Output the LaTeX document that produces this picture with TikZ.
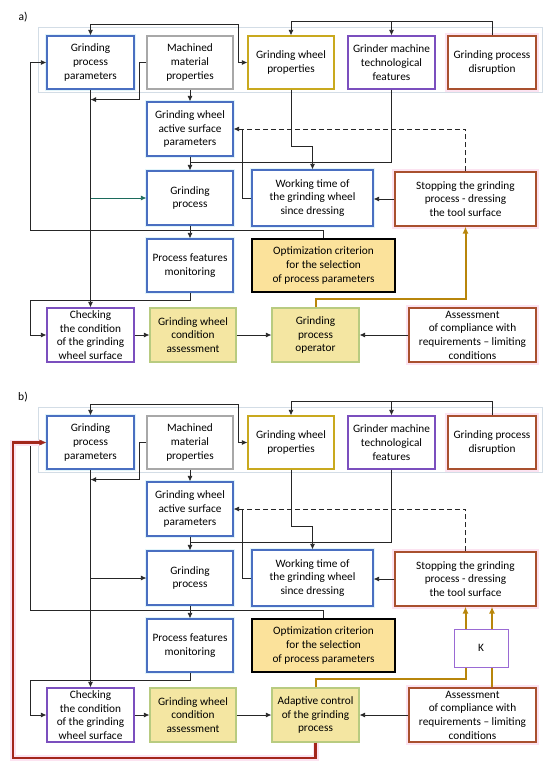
\documentclass[tikz,border=0pt]{standalone}
\usepackage{fontspec}
\setmainfont{Carlito}
\usetikzlibrary{arrows.meta,calc}
\definecolor{cblue}{HTML}{4A6FC1}
\definecolor{cglowb}{HTML}{E2F5FA}
\definecolor{cgray}{HTML}{A8A8A8}
\definecolor{cgold}{HTML}{C9A91E}
\definecolor{cpurp}{HTML}{7B4FBE}
\definecolor{cbrown}{HTML}{A9502E}
\definecolor{cglowp}{HTML}{FCE3F1}
\definecolor{coptf}{HTML}{FBE29B}
\definecolor{cyelf}{HTML}{F4E6A2}
\definecolor{cyeld}{HTML}{B8CB80}
\definecolor{cline}{HTML}{B8860B}
\definecolor{cred}{HTML}{A3261B}
\definecolor{cframe}{HTML}{D3DDE6}
\definecolor{cteal}{HTML}{1C6B5C}
\definecolor{ckpurp}{HTML}{9A6AD4}
\newcommand{\bxf}{\fontsize{11.3}{13.7}\selectfont}
\tikzset{
  base/.style={draw, line width=1.2pt, fill=white, align=center, inner sep=0pt, font=\bxf},
  sz/.style 2 args={minimum width=#1pt, minimum height=#2pt},
  bblue/.style={base, draw=cblue, preaction={draw=cglowb, line width=4pt}},
  bgray/.style={base, draw=cgray},
  bgold/.style={base, draw=cgold},
  bpurp/.style={base, draw=cpurp},
  bbrown/.style={base, draw=cbrown, preaction={draw=cglowp, line width=6pt}},
  bopt/.style={base, fill=coptf, draw=black, line width=1.4pt},
  byel/.style={base, fill=cyelf, draw=cyeld},
  bk/.style={base, draw=ckpurp, line width=0.9pt},
  conn/.style={line width=0.8pt, draw=black!85},
  arr/.style={conn, -{Latex[length=5.5pt,width=5pt]}},
  arrtwo/.style={conn, {Latex[length=5.5pt,width=5pt]}-{Latex[length=5.5pt,width=5pt]}},
  dline/.style={conn, dash pattern=on 5pt off 3pt},
  goldarr/.style={line width=2pt, draw=cline, -{Latex[length=7pt,width=6pt]}},
  redarr/.style={line width=2.2pt, draw=cred, preaction={draw=cglowp, line width=6pt}, -{Latex[length=7pt,width=6pt]}},
  frame/.style={draw=cframe, line width=0.6pt},
  lbl/.style={font=\fontsize{11.5}{13}\selectfont, inner sep=0pt}
}
\newcommand{\drawpanel}[2]{%
  \draw[frame] (38,27) rectangle (542,92);
  \node[bblue, sz={87}{53}] (GPP) at (90.5,62.5) {Grinding\\process\\parameters};
  \node[bgray, sz={86}{53}] (MMP) at (190,62.5) {Machined\\material\\properties};
  \node[bgold, sz={86}{53}] (GWP) at (291,62.5) {Grinding wheel\\properties};
  \node[bpurp, sz={87}{53}] (GMT) at (391.5,62.5) {Grinder machine\\technological\\features};
  \node[bbrown, sz={88}{53}] (GPD) at (492,62.5) {Grinding process\\disruption};
  \node[bblue, sz={86}{54}] (GWASP) at (190,129) {Grinding wheel\\active surface\\parameters};
  \node[bblue, sz={86}{54}] (GP) at (190,198) {Grinding\\process};
  \node[bblue, sz={121}{56}] (WT) at (312.5,198) {Working time of\\the grinding wheel\\since dressing};
  \node[bbrown, sz={141}{54}] (SGP) at (465.5,199) {Stopping the grinding\\process - dressing\\the tool surface};
  \node[bblue, sz={86}{53}] (PFM) at (190,265.5) {Process features\\monitoring};
  \node[bopt, sz={143}{53}] (OPT) at (323.5,265.5) {Optimization criterion\\for the selection\\of process parameters};
  \node[bpurp, sz={87}{54}] (CHK) at (90.5,335) {Checking\\the condition\\of the grinding\\wheel surface};
  \node[byel, sz={86}{54}] (GWCA) at (193,335) {Grinding wheel\\condition\\assessment};
  \node[byel, sz={87}{54}] (OP) at (315.5,335) {#1};
  \node[bbrown, sz={127}{54}] (ASM) at (472.5,335) {Assessment\\of compliance with\\requirements -- limiting\\conditions};
  \coordinate (t1) at (238,24);
  \draw[arrtwo] (GPP.north) |- (t1) |- (GWP.west);
  \coordinate (t2) at (291,21);
  \draw[arr] (GPD.north) |- (t2) -- (GWP.north);
  \draw[arr] (GMT.north |- t2) -- (GMT.north);
  \draw[arr] (MMP.west) -- ++(-7,0) |- ($(GPP.south)+(0,10)$);
  \draw[arr] (MMP.south) -- (GWASP.north);
  \draw[arr] (GWASP.south) -- (GP.north);
  \coordinate (j1) at (190,162);
  \draw[conn] (GMT.south) |- (j1);
  \draw[arr] (GWP.south) -- ++(0,57) -| (WT.north);
  \coordinate (j2) at (242,129);
  \draw[arr] (WT.west) -| (j2) -- (GWASP.east);
  \draw[dline] (SGP.north) |- (j2);
  \draw[arr] (SGP.west) -- (SGP.west -| WT.east);
  \draw[arr] (GPP.south) -- (CHK.north);
  \draw[arr, draw=#2] (GPP.south |- GP.west) -- (GP.west);
  \coordinate (L1) at (30,230);
  \draw[arr] (OPT.north) |- (L1) |- (GPP.west);
  \draw[arr] (GP.south) -- (PFM.north);
  \coordinate (L2) at (30,300);
  \draw[arr] (PFM.south) |- (L2) |- (CHK.west);
  \draw[arr] (CHK.east) -- (GWCA.west);
  \draw[arr] (GWCA.east) -- (OP.west);
  \draw[arr] (ASM.west) -- (OP.east);
  \coordinate (g1) at (465.5,299);
  \draw[goldarr] (OP.north) |- (g1) -- (SGP.south);
}
\begin{document}
\begin{tikzpicture}[x=1pt,y=-1pt]
\useasboundingbox (0,0) rectangle (550,769);
\node[lbl] (la) at (23,17) {a)};
\begin{scope}[name prefix=a-]
  \drawpanel{Grinding\\process\\operator}{cteal}
\end{scope}
\node[lbl] (lb) at (23,397) {b)};
\begin{scope}[yshift=-380pt, name prefix=b-]
  \drawpanel{Adaptive control\\of the grinding\\process}{black!85}
  \draw[goldarr] ($(ASM.north)+(19.5,0)$) -- ($(SGP.south)+(26.5,0)$);
  \node[bk, sz={54}{38}] (K) at (481,268) {K};
  \coordinate (r1) at (13,378);
  \draw[redarr] (OP.south) |- (r1) |- (GPP.west);
\end{scope}
\end{tikzpicture}
\end{document}
